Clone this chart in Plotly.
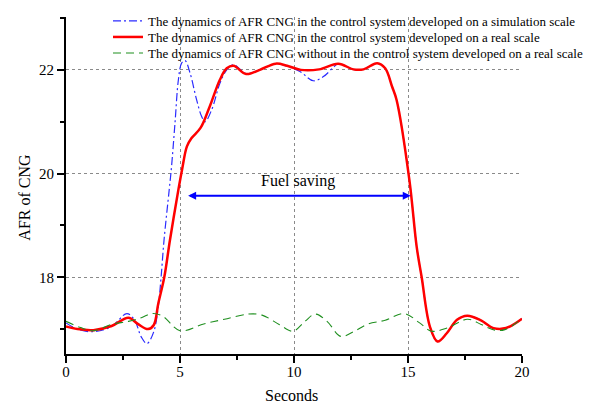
import plotly.graph_objects as go

# ---------------- data ----------------
sim_t = [0, 0.5, 1.2, 2.0, 2.67, 3.0, 3.3, 3.55, 3.85, 4.05, 4.17, 4.3, 4.53, 4.63, 4.78, 4.93,
         5.07, 5.22, 5.44, 5.73, 5.95, 6.1, 6.39, 6.75, 7.05, 7.34, 7.9, 8.5, 9.2, 9.7, 10.26,
         10.85, 11.29, 11.73, 11.94, 12.6, 13.05, 13.65, 14.0, 14.3, 14.5, 15.06, 15.38, 15.6,
         15.96, 16.3, 16.7, 17.15, 17.6, 18.2, 18.75, 19.3, 20.0]
sim_afr = [17.12, 17.0, 16.95, 17.05, 17.3, 17.18, 16.85, 16.72, 16.95, 17.45, 18.0, 18.72, 19.7,
           20.14, 20.97, 21.81, 22.13, 22.18, 21.94, 21.42, 21.1, 21.0, 21.23, 21.74, 22.0, 22.1,
           21.93, 22.0, 22.12, 22.07, 21.97, 21.79, 21.87, 22.05, 22.12, 22.01, 22.01, 22.13,
           22.03, 21.68, 21.42, 19.88, 18.59, 18.0, 17.05, 16.76, 16.92, 17.18, 17.26, 17.17,
           17.02, 17.02, 17.2]

real_t = [0, 0.5, 1.2, 2.0, 2.74, 3.15, 3.6, 3.85, 4.05, 4.31, 4.56, 4.93, 5.1, 5.3, 5.5, 5.9,
          6.3, 6.75, 7.05, 7.35, 7.9, 8.5, 9.2, 9.7, 10.3, 11.1, 11.94, 12.6, 13.05, 13.65, 14.0,
          14.3, 14.5, 15.06, 15.38, 15.6, 15.96, 16.3, 16.7, 17.15, 17.6, 18.2, 18.75, 19.3, 20.0]
real_afr = [17.05, 17.0, 16.98, 17.06, 17.22, 17.1, 17.0, 17.08, 17.5, 18.0, 18.72, 19.69, 20.1,
            20.52, 20.68, 20.88, 21.29, 21.81, 22.03, 22.08, 21.92, 22.0, 22.12, 22.08, 22.0,
            22.01, 22.12, 22.01, 22.01, 22.13, 22.03, 21.68, 21.42, 19.88, 18.59, 18.0, 17.05,
            16.76, 16.92, 17.18, 17.26, 17.17, 17.02, 17.02, 17.2]

noctl_t = [0, 0.64, 1.24, 1.99, 2.74, 3.3, 3.79, 4.24, 5.0, 6.04, 6.95, 8.0, 8.6, 9.35, 9.95,
           10.48, 10.93, 11.45, 12.05, 12.65, 13.25, 14.0, 14.83, 15.51, 16.03, 16.71, 17.61,
           18.21, 18.81, 19.25, 20.0]
noctl_afr = [17.15, 17.03, 16.97, 17.09, 17.15, 17.22, 17.3, 17.25, 16.97, 17.1, 17.19, 17.29,
             17.27, 17.09, 16.96, 17.15, 17.29, 17.15, 16.86, 16.96, 17.1, 17.17, 17.3, 17.12,
             16.96, 17.02, 17.19, 17.09, 16.98, 16.99, 17.2]

names = [
    "The dynamics of AFR CNG in the control system developed on a simulation scale",
    "The dynamics of AFR CNG in the control system developed on a real scale",
    "The dynamics of AFR CNG without in the control system developed on a real scale",
]

x_ticks = [0, 5, 10, 15, 20]
x_grid = [5, 10, 15]
saving_start, saving_end, saving_level = 5.29, 15.12, 19.57

FONT = "Liberation Serif"

fig = go.Figure()
fig.add_trace(go.Scatter(x=sim_t, y=sim_afr, mode="lines", name=names[0],
                         line=dict(color="#2b2bff", width=1.2, dash="8px,3px,2px,3px", shape="spline"),
                         legend="legend"))
fig.add_trace(go.Scatter(x=noctl_t, y=noctl_afr, mode="lines", name=names[2],
                         line=dict(color="#1f8f1f", width=1.1, dash="8px,5px", shape="spline"),
                         legend="legend3", xaxis="x2"))
fig.add_trace(go.Scatter(x=real_t, y=real_afr, mode="lines", name=names[1],
                         line=dict(color="#ff0000", width=2.5, shape="spline"),
                         legend="legend2"))

fig.add_annotation(x=saving_end, y=saving_level, ax=saving_start, ay=saving_level,
                   xref="x", yref="y", axref="x", ayref="y", text="", showarrow=True,
                   arrowhead=2, arrowside="end+start", arrowwidth=2, arrowsize=0.8,
                   arrowcolor="#0000ff")
fig.add_annotation(x=10.18, y=19.86, xref="x", yref="y", text="Fuel saving", showarrow=False,
                   xanchor="center", yanchor="middle",
                   font=dict(family=FONT, size=16, color="black"))
fig.add_annotation(x=-0.0899, y=0.464, xref="paper", yref="paper", text="AFR of CNG",
                   xanchor="center", yanchor="middle",
                   textangle=-90, showarrow=False, font=dict(family=FONT, size=16, color="black"))
fig.add_annotation(x=0.4956, y=-0.1237, xref="paper", yref="paper", text="Seconds",
                   xanchor="center", yanchor="middle",
                   showarrow=False, font=dict(family=FONT, size=16, color="black"))

leg_common = dict(bgcolor="rgba(0,0,0,0)", borderwidth=0, xanchor="left", yanchor="middle",
                  xref="container", yref="container",
                  font=dict(family=FONT, size=13, color="black"))
fig.update_layout(
    width=598, height=405,
    margin=dict(l=66, r=76, t=17, b=51, autoexpand=False),
    paper_bgcolor="white", plot_bgcolor="white",
    showlegend=True,
    legend=dict(x=108 / 598, y=1 - 21 / 405, **leg_common),
    legend2=dict(x=108 / 598, y=1 - 37 / 405, **leg_common),
    legend3=dict(x=108 / 598, y=1 - 53 / 405, **leg_common),
    xaxis=dict(range=[0, 20], tickvals=x_ticks, showgrid=False, zeroline=False,
               showline=True, linecolor="black", linewidth=2,
               ticks="outside", ticklen=7, tickwidth=1.5, tickcolor="black",
               ticklabelstandoff=-4,
               minor=dict(dtick=2.5, tick0=0, ticks="outside", ticklen=4, tickwidth=1.5,
                          tickcolor="black", showgrid=False),
               tickfont=dict(family=FONT, size=15, color="black")),
    xaxis2=dict(range=[0, 20], overlaying="x", anchor="y", tickvals=x_grid, showgrid=True,
                gridcolor="#8a8a8a", gridwidth=1, griddash="3px,3px", showticklabels=False,
                ticks="", showline=False, zeroline=False),
    yaxis=dict(range=[16.52, 23.02], tick0=0, dtick=2, showgrid=True, gridcolor="#8a8a8a",
               gridwidth=1, griddash="3px,3px", zeroline=False,
               showline=True, linecolor="black", linewidth=2,
               ticks="outside", ticklen=7, tickwidth=1.5, tickcolor="black",
               minor=dict(dtick=1, tick0=0, ticks="outside", ticklen=4, tickwidth=1.5,
                          tickcolor="black", showgrid=False),
               tickfont=dict(family=FONT, size=15, color="black")),
)

fig.write_html("out.html")
